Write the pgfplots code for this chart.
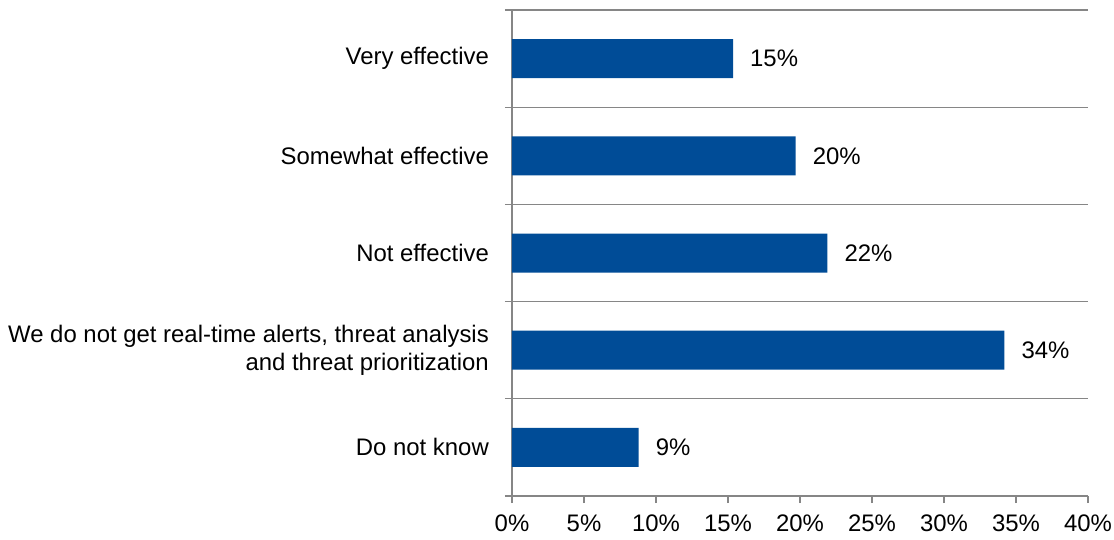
\documentclass[border=0pt]{standalone}
\usepackage{pgfplots}
\pgfplotsset{compat=1.18}
\usepackage{fontspec}
\setmainfont{Liberation Sans}
\definecolor{barblue}{RGB}{0,76,151}
\definecolor{gridgray}{RGB}{134,134,134}
\begin{document}
\fontsize{24}{28}\selectfont
\begin{tikzpicture}
\path[use as bounding box] (-512bp,-44bp) rectangle (602bp,496bp);
\begin{axis}[
  at={(0,0)}, anchor=south west,
  scale only axis,
  width=576bp, height=486bp,
  xbar, bar width=39bp,
  xmin=0, xmax=40,
  ymin=-0.5, ymax=4.5,
  y dir=reverse,
  axis x line*=bottom,
  axis y line*=left,
  axis line style={gridgray, line width=1.2bp},
  xtick={0,5,...,40},
  xticklabels={0\%,5\%,10\%,15\%,20\%,25\%,30\%,35\%,40\%},
  x tick label style={font=\fontsize{24}{28}\selectfont, yshift=-4bp},
  major x tick style={gridgray, line width=1.2bp},
  major y tick style={draw=none},
  tick align=outside,
  major tick length=7bp,
  ytick={0,1,2,3,4},
  yticklabels={Very effective, Somewhat effective, Not effective, {We do not get real-time alerts, threat analysis\\and threat prioritization}, Do not know},
  y tick label style={font=\fontsize{24}{28}\selectfont, align=right, xshift=-8bp},
  minor ytick={-0.5,0.5,1.5,2.5,3.5,4.5},
  minor tick length=7bp,
  minor y tick style={gridgray, line width=1.2bp},
  y grid style={gridgray, line width=1.2bp},
  yminorgrids=true,
  ymajorgrids=false,
  nodes near coords={\pgfmathprintnumber[fixed,precision=0,assume math mode=true]{\pgfplotspointmeta}\%},
  nodes near coords style={font=\fontsize{24}{28}\selectfont, anchor=west, xshift=9bp, black},
  clip=false,
]
\addplot[fill=barblue, draw=none] coordinates {
  (15.35,0) (19.7,1) (21.9,2) (34.2,3) (8.8,4)
};
\end{axis}
\end{tikzpicture}
\end{document}
